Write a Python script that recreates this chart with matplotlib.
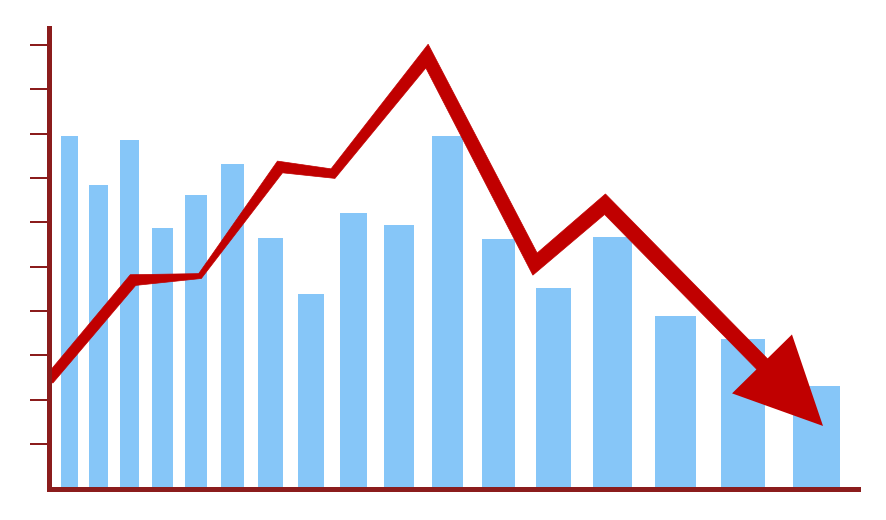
import numpy as np
import matplotlib
matplotlib.use("Agg")
import matplotlib.pyplot as plt
from matplotlib.patches import Polygon
from matplotlib.transforms import IdentityTransform

# bar heights, read in tick units (ticks at 1..10)
bar_values = [7.95, 6.84, 7.85, 5.87, 6.62, 7.31, 5.65, 4.39, 6.22,
              5.94, 7.94, 5.63, 4.53, 5.67, 3.88, 3.36, 2.31]

# trend line, last point is the arrow tip
trend_x = [0, 84, 151, 231, 284, 378, 486, 556, 774]
trend_y = [2.45, 4.70, 4.79, 7.25, 7.10, 9.75, 5.06, 6.41, 1.41]

tick_values = list(range(1, 11))

# layout (x in pixel-like units from the y axis)
bar_x = [20.5, 49.5, 80.5, 113.5, 147, 183.5, 221.5, 262, 304.5,
         350, 398.5, 449.5, 504.5, 563.5, 626.5, 694, 767.5]
bar_w = [17, 19, 19, 21, 22, 23, 25, 26, 27, 30, 31, 33, 35, 39, 41, 44, 47]
# ribbon thickness (px) at each trend vertex, last one is the shaft end
ribbon_w = [10, 11, 5, 11, 9, 13, 14, 15, 15]

bar_color = "#86C6F8"
line_color = "#C00000"
axis_color = "#8B1C1C"
px = 72 / 100  # points per pixel

fig = plt.figure(figsize=(8.86, 5.20), dpi=100)
ax = fig.add_axes([49 / 886, (520 - 488.5) / 520, (858 - 49) / 886, (488.5 - 28) / 520])
ax.set_xlim(0, 809)
ax.set_ylim(0, (488.5 - 28) / 44.35)

ax.bar(bar_x, bar_values, width=bar_w, color=bar_color, linewidth=0, zorder=1)

# shaft ends a bit inside the arrow head
tx = np.array(trend_x, dtype=float)
ty = np.array(trend_y, dtype=float)
frac = 0.8
sx = tx[-2] + frac * (tx[-1] - tx[-2])
sy = ty[-2] + frac * (ty[-1] - ty[-2])
path_x = np.append(tx[:-1], sx)
path_y = np.append(ty[:-1], sy)

# build a tapered ribbon in pixel space
pts = ax.transData.transform(np.column_stack([path_x, path_y]))
left, right = [], []
n = len(pts)
for i in range(n):
    half = ribbon_w[i] / 2
    if i == 0:
        d = pts[1] - pts[0]
        d /= np.hypot(*d)
        nrm = np.array([-d[1], d[0]])
        off = nrm * half
    elif i == n - 1:
        d = pts[i] - pts[i - 1]
        d /= np.hypot(*d)
        nrm = np.array([-d[1], d[0]])
        off = nrm * half
    else:
        d1 = pts[i] - pts[i - 1]
        d1 /= np.hypot(*d1)
        d2 = pts[i + 1] - pts[i]
        d2 /= np.hypot(*d2)
        n1 = np.array([-d1[1], d1[0]])
        n2 = np.array([-d2[1], d2[0]])
        m = n1 + n2
        m /= np.hypot(*m)
        off = m * half / np.dot(m, n1)
    left.append(pts[i] + off)
    right.append(pts[i] - off)
ribbon = Polygon(np.array(left + right[::-1]), closed=True, facecolor=line_color,
                 edgecolor=line_color, linewidth=0.5, transform=IdentityTransform(),
                 zorder=3)
ax.add_patch(ribbon)
ribbon.set_clip_path(ax.patch)

# arrow head
hx = tx[-2] + 0.55 * (tx[-1] - tx[-2])
hy = ty[-2] + 0.55 * (ty[-1] - ty[-2])
ax.annotate("", xy=(tx[-1], ty[-1]), xytext=(hx, hy),
            arrowprops=dict(arrowstyle="-|>,head_length=%f,head_width=%f" % (87 * px, 42 * px),
                            mutation_scale=1, color=line_color, lw=0,
                            shrinkA=0, shrinkB=0),
            zorder=4)

for side in ["top", "right"]:
    ax.spines[side].set_visible(False)
for side in ["left", "bottom"]:
    ax.spines[side].set_color(axis_color)
    ax.spines[side].set_linewidth(5 * px)
    ax.spines[side].set_zorder(5)
    ax.spines[side].set_capstyle("projecting")

ax.set_yticks(tick_values)
ax.set_yticklabels([])
ax.set_xticks([])
ax.tick_params(axis="y", direction="out", length=19 * px, width=2 * px, color=axis_color)
ax.set_facecolor("white")

plt.savefig("out.png", dpi=100, facecolor="white")
